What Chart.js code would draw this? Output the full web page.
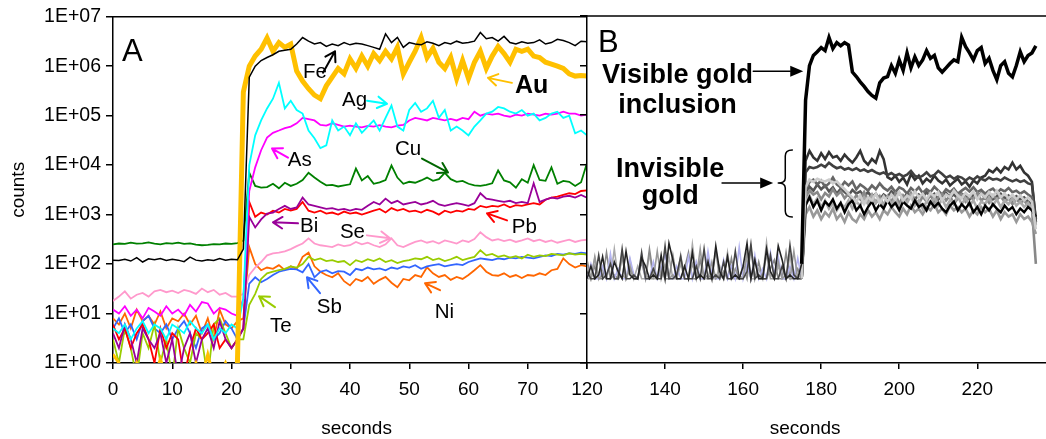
<!DOCTYPE html>
<html><head><meta charset="utf-8">
<script src="https://cdn.jsdelivr.net/npm/chart.js@4.4.0/dist/chart.umd.min.js"></script>
<style>
html,body{margin:0;padding:0;background:#fff;}
#wrap{position:relative;width:1046px;height:439px;overflow:hidden;background:#fff;}
#cA{position:absolute;left:0;top:0;}
#cB{position:absolute;left:560px;top:0;}
</style></head><body>
<div id="wrap"><canvas id="cA" width="600" height="439"></canvas><canvas id="cB" width="486" height="439"></canvas></div>
<script>
// ---------------- DATA ----------------
const secondsA = [0,1,2,3,4,5,6,7,8,9,10,11,12,13,14,15,16,17,18,19,20,21,22,23,24,25,26,27,28,29,30,31,32,33,34,35,36,37,38,39,40,41,42,43,44,45,46,47,48,49,50,51,52,53,54,55,56,57,58,59,60,61,62,63,64,65,66,67,68,69,70,71,72,73,74,75,76,77,78,79,80];
const secondsB = [120,121,122,123,124,125,126,127,128,129,130,131,132,133,134,135,136,137,138,139,140,141,142,143,144,145,146,147,148,149,150,151,152,153,154,155,156,157,158,159,160,161,162,163,164,165,166,167,168,169,170,171,172,173,174,175,176,177,178,179,180,181,182,183,184,185,186,187,188,189,190,191,192,193,194,195,196,197,198,199,200,201,202,203,204,205,206,207,208,209,210,211,212,213,214,215,216,217,218,219,220,221,222,223,224,225,226,227,228,229,230,231,232,233,234,235];

const xTicksA = [0,10,20,30,40,50,60,70,80];
const xTickLabelsA = ['0','10','20','30','40','50','60','70',''];
const xTicksB = [120,140,160,180,200,220];
const xTickLabelsB = ['120','140','160','180','200','220'];
const yTicks = [1,10,100,1000,10000,100000,1000000,10000000];
const yTickLabels = ['1E+00','1E+01','1E+02','1E+03','1E+04','1E+05','1E+06','1E+07'];

const fe = [120,118,125,115,135,110,128,122,130,118, 125,120,112,138,120,115,122,118,130,120, 125,122,200,6e5,1.0e6,1.3e6,1.5e6,1.7e6,2.0e6,2.1e6,
 2.2e6,2.8e6,3.8e6,3.2e6,2.8e6,3.0e6,2.5e6,2.8e6,2.6e6,3.0e6, 2.7e6,2.9e6,2.8e6,2.6e6,2.4e6,2.2e6,4.5e6,3.0e6,3.8e6,2.4e6,
 3.0e6,2.8e6,2.7e6,3.1e6,2.9e6,2.6e6,3.0e6,2.8e6,3.2e6,2.9e6, 3.0e6,3.2e6,4.8e6,3.6e6,3.8e6,3.2e6,4.0e6,3.0e6,2.8e6,3.1e6,
 2.9e6,3.0e6,3.4e6,2.8e6,3.0e6,3.5e6,3.3e6,3.0e6,2.6e6,3.2e6, 3.1e6];
const au = [1.5,1,0.5,0.5,1,0.5,0.5,0.5,1.2,0.5, 0.5,0.5,0.5,0.5,1,0.5,1.5,0.5,0.5,1, 0.5,1,3e5,1.0e6,1.6e6,2.2e6,3.7e6,2.0e6,3.0e6,2.4e6,
 2.8e6,8e5,5e5,3.5e5,2.6e5,2.2e5,4e5,6e5,9e5,7e5, 1.4e6,9e5,1.6e6,1.0e6,1.8e6,1.3e6,2.0e6,1.4e6,2.4e6,7e5,
 1.2e6,2.0e6,3.8e6,1.5e6,2.3e6,1.2e6,9e5,1.5e6,5.6e5,1.3e6, 5.6e5,1.2e6,2.0e6,9e5,1.6e6,2.5e6,1.8e6,1.2e6,2.2e6,2.0e6,
 2.2e6,1.6e6,1.5e6,1.2e6,1.1e6,1.0e6,9e5,7e5,6.3e5,6.5e5, 6.3e5];
const ag = [5,4,6,3,5,7,4,6,5,3, 6,5,4,7,5,4,6,3,5,4, 6,5,20,1e4,4e4,8e4,1.4e5,2.2e5,4.6e5,1.4e5,
 2e5,1.3e5,1.1e5,5e4,3.5e4,2.2e4,2.5e4,8e4,5e4,6e4, 4e4,7e4,4.5e4,6e4,8e4,5e4,9e4,1.6e5,6e4,5e4,
 1.3e5,1.8e5,1.2e5,1.4e5,2e5,9e4,1.3e5,5e4,6e4,5e4, 4e4,6e4,8e4,1.1e5,1.2e5,1.5e5,1.4e5,1.2e5,1.1e5,1.3e5,
 1.0e5,1.1e5,8e4,9e4,1.1e5,1.2e5,9e4,1.0e5,4.4e4,5e4, 4e4];
const as = [12,10,14,9,12,8,13,11,9,14, 10,12,9,15,11,17,16,10,13,12, 10,9,20,3e3,9e3,2e4,3.6e4,4.5e4,5e4,5.6e4,
 6e4,7e4,9e4,8.5e4,8e4,6.5e4,6.3e4,7e4,6.5e4,6e4, 6.3e4,6e4,5.8e4,6.2e4,6e4,6.4e4,6e4,5.8e4,6.3e4,6.5e4,
 8e4,9e4,8.5e4,8e4,9e4,8.5e4,8e4,8.6e4,8e4,9e4, 8.5e4,1.2e5,1.0e5,1.1e5,1.05e5,1.1e5,1.0e5,9.5e4,1.05e5,1.0e5,
 1.1e5,1.05e5,1.0e5,1.1e5,1.05e5,1.1e5,1.2e5,1.1e5,1.1e5,1.0e5, 1.05e5];
const cu = [250,260,255,270,258,262,275,260,250,265, 258,270,255,262,248,240,245,252,250,260, 255,265,300,7e3,3.8e3,3.5e3,3.6e3,4.2e3,3.4e3,4.4e3,
 3.8e3,4.2e3,5e3,7e3,5.6e3,4.6e3,3.9e3,4e3,3.7e3,3.9e3, 4.1e3,8.5e3,4.9e3,6e3,4.2e3,4.5e3,5e3,9.8e3,5.6e3,4.2e3,
 4.6e3,4.4e3,4.9e3,5.6e3,4.8e3,5.2e3,7e3,5.2e3,4.6e3,4.8e3, 4.2e3,3.9e3,3.8e3,4e3,4.3e3,7.8e3,4.9e3,4.5e3,3.5e3,5.2e3,
 4.4e3,1e4,5e3,4.8e3,9e3,4.2e3,4.8e3,4.6e3,3.8e3,4.5e3, 1.1e4];
const bi = [4,2,6,3,1,5,3,2,4,1, 3,0.5,2,4,1,3,5,2,7,3, 2,3,5,900,550,800,1.05e3,1.1e3,1.3e3,1.5e3,
 1.3e3,1.4e3,2.2e3,1.6e3,1.5e3,1.4e3,1.3e3,1.35e3,1.25e3,1.3e3, 1.2e3,1.3e3,1.25e3,1.5e3,1.8e3,1.6e3,2.1e3,1.7e3,1.9e3,1.6e3,
 1.7e3,1.8e3,1.6e3,1.7e3,1.9e3,1.6e3,1.5e3,1.6e3,1.7e3,1.6e3, 1.5e3,1.7e3,2.7e3,2.1e3,2.0e3,1.9e3,1.8e3,1.9e3,1.7e3,1.8e3,
 1.7e3,4.3e3,1.8e3,2.0e3,2.2e3,2.1e3,2.3e3,2.4e3,2.2e3,2.5e3, 2.2e3];
const pb = [6,3,5,2,4,6,3,1,5,2, 4,3,0.5,2,5,3,4,6,2,3, 2,3,5,1.8e3,900,1.1e3,1.0e3,1.2e3,1.1e3,1.3e3,
 1.2e3,1.3e3,1.8e3,1.2e3,1.1e3,1.2e3,1.05e3,1.1e3,1.0e3,1.15e3, 1.05e3,1.1e3,1.0e3,1.1e3,1.2e3,1.3e3,1.1e3,1.35e3,1.2e3,1.3e3,
 1.15e3,1.2e3,1.1e3,1.25e3,1.15e3,1.0e3,1.2e3,1.1e3,1.2e3,1.15e3, 1.3e3,1.25e3,1.5e3,1.4e3,1.5e3,1.45e3,1.6e3,1.4e3,1.55e3,1.5e3,
 1.6e3,1.7e3,1.6e3,2.0e3,2.2e3,2.3e3,2.5e3,2.7e3,2.6e3,3.0e3, 3.1e3];
const se = [18,22,28,20,24,26,22,28,30,27, 29,26,30,28,25,32,27,30,24,26, 22,22,25,60,85,110,150,165,170,180,
 200,230,260,330,260,240,230,220,250,230, 240,280,250,270,240,220,250,330,240,220,
 250,280,300,270,290,260,300,280,260,300, 280,320,440,350,300,320,290,310,280,300,
 330,290,310,280,300,270,290,310,280,300, 310];
const te = [3,1,5,2,0.5,4,2,6,1,3, 0.5,5,2,1,4,3,0.5,6,8,4, 2,3,3,15,25,50,65,70,75,80,
 90,85,100,140,120,130,115,120,110,115, 95,120,110,125,115,130,110,120,105,115,
 120,130,125,140,120,130,115,125,140,120, 130,140,190,150,160,140,150,135,145,130,
 155,140,150,145,160,155,150,165,155,160, 155];
const sb = [5,8,4,6,3,7,9,5,4,6, 3,5,7,4,2,5,6,3,4,7, 5,3,5,40,54,43,50,60,70,75,
 80,78,68,100,54,70,75,65,72,70, 60,80,75,85,78,82,75,85,80,90,
 85,95,80,90,95,100,90,95,100,95, 110,120,130,125,120,130,125,135,130,140,
 135,130,140,150,145,160,155,165,160,170, 165];
const ni = [8,6,10,5,12,7,9,6,11,5, 8,7,10,6,9,4,8,3,12,6, 5,7,8,220,100,75,85,80,95,75,
 90,80,140,170,90,70,60,54,65,45, 37,50,45,55,40,48,55,42,34,50,
 47,60,55,86,65,55,60,48,55,50, 60,75,95,70,60,58,65,55,60,52,
 60,58,65,60,75,80,130,100,85,95, 90];

// Panel B (arrays aligned to the end of secondsB)
const visibleGoldB = [50,90,50,60,140,50,50,110, 70,50,180,60,50,50,130,90, 50,60,50,150,50,260,120,50, 50,90,50,170,50,60,50,110, 50,230,70,50,140,50,60,50, 90,260,50,120,50,50,200,70, 50,230,120,50,60,50,50,100,
 2e5,1e6,1.6e6,1.9e6,2.3e6,2.0e6,3.7e6,2.2e6,2.9e6,2.5e6, 2.9e6,2.6e6,7.4e5,6e5,4.7e5,3.8e5,3e5,2.5e5,2.2e5,4.5e5,
 5.6e5,6e5,1.0e6,7e5,1.3e6,8e5,1.8e6,9e5,1.5e6,1.0e6, 1.3e6,2.0e6,1.4e6,1.6e6,9e5,7.4e5,9e5,1.1e6,1.3e6,1.2e6,
 3.7e6,2.4e6,1.8e6,1.3e6,2.0e6,2.3e6,1.1e6,1.4e6,8e5,5.2e5, 1.0e6,1.2e6,7e5,5.9e5,1.0e6,1.9e6,1.2e6,1.6e6,1.8e6,2.5e6];
const invisibleB1 = [50,50,130,50,80,50,50,200, 50,60,50,120,50,90,50,50, 160,50,50,70,50,140,50,50, 100,50,50,250,60,50,50,130, 50,50,90,50,170,50,50,60, 50,140,50,50,80,50,270,60, 50,90,50,50,150,50,60,50,
 1.2e4,1.9e4,1.4e4,1.2e4,1.7e4,1.3e4,1.8e4,1.4e4,1.5e4,1.2e4, 1.6e4,1.3e4,1.1e4,1.4e4,1.9e4,1.2e4,1.0e4,1.3e4,1.1e4,1.9e4,
 1.3e4,5.6e3,5e3,6e3,4.5e3,5.5e3,4e3,6.5e3,5e3,6e3, 4.2e3,5.2e3,4.5e3,6e3,4.8e3,4.2e3,5e3,3.8e3,4.5e3,5.2e3,
 4.0e3,4.6e3,3.6e3,4.8e3,4.2e3,5.5e3,6e3,7.8e3,7e3,8.5e3, 7e3,9e3,8e3,1.1e4,8e3,9.5e3,7e3,6e3,4.5e3,700];
const invisibleB2 = [50,
 7e3,9e3,8.5e3,9e3,1.0e4,9e3,1.1e4,9.5e3,8.5e3,9e3, 8e3,8.5e3,7.8e3,8.5e3,7.5e3,8e3,7.2e3,7.8e3,7e3,6.5e3,
 7e3,6.2e3,6.8e3,6e3,6.5e3,5.8e3,6.3e3,7.5e3,6e3,5.5e3, 6e3,7e3,5.8e3,6.2e3,7.5e3,6.5e3,5.5e3,6e3,5.2e3,5.8e3,
 5.5e3,4.8e3,5.5e3,5e3,5.8e3,5.2e3,4.8e3,5.5e3,5e3,5.2e3, 4.8e3,5.5e3,5e3,4.6e3,5e3,4.5e3,4.8e3,4.2e3,4.0e3,800];
const invisibleB3 = [50,
 3e3,4.5e3,5e3,4e3,4.8e3,3.6e3,4.2e3,5.5e3,4e3,3.5e3, 4.5e3,3.8e3,4.6e3,3.2e3,4e3,3.5e3,3e3,3.8e3,3.2e3,4.2e3,
 3.4e3,3.0e3,3.6e3,2.8e3,3.5e3,3.2e3,2.6e3,3.4e3,2.9e3,3.5e3, 2.7e3,3.2e3,2.8e3,3.6e3,3.0e3,2.5e3,3.2e3,2.8e3,3.3e3,2.6e3,
 3.0e3,3.4e3,2.9e3,3.5e3,2.8e3,3.1e3,2.6e3,3.0e3,3.3e3,2.7e3, 3.2e3,2.9e3,3.4e3,2.8e3,3.0e3,2.6e3,2.9e3,2.5e3,2.2e3,600];
const invisibleB4 = [50,
 3.5e3,5e3,4.5e3,5.2e3,4.8e3,4.6e3,5e3,4.2e3,4.6e3,3.8e3, 3.2e3,2.6e3,2.2e3,1.8e3,2.4e3,1.6e3,2.2e3,1.9e3,2.6e3,1.7e3,
 2.3e3,1.8e3,2.5e3,2.0e3,2.8e3,1.9e3,2.4e3,2.1e3,2.9e3,2.2e3, 2.6e3,2.0e3,2.7e3,2.3e3,2.8e3,1.9e3,2.5e3,2.2e3,3.0e3,2.4e3,
 2.1e3,2.7e3,2.3e3,2.9e3,2.0e3,2.6e3,2.2e3,2.8e3,2.3e3,3.0e3, 2.2e3,2.6e3,2.1e3,2.5e3,2.0e3,2.4e3,1.9e3,2.2e3,1.8e3,500];
const invisibleB5 = [70,50,50,150,50,60,100,50, 50,200,50,50,60,50,170,50, 50,80,50,50,230,50,50,60, 140,50,50,50,90,50,200,50, 50,60,50,110,50,50,180,50, 50,70,250,50,60,50,50,150, 50,50,90,50,240,60,50,50,
 1.5e3,2.2e3,1.4e3,1.9e3,1.2e3,1.8e3,1.5e3,2.0e3,1.3e3,1.7e3, 1.1e3,1.6e3,1.9e3,1.2e3,1.5e3,1.0e3,1.4e3,1.8e3,1.2e3,1.6e3,
 1.3e3,1.9e3,1.4e3,1.7e3,1.2e3,1.8e3,1.5e3,1.3e3,1.9e3,1.4e3, 1.6e3,1.2e3,1.8e3,1.4e3,1.7e3,1.3e3,1.1e3,1.5e3,1.8e3,1.2e3,
 1.6e3,1.3e3,1.7e3,1.1e3,1.4e3,1.0e3,1.5e3,1.2e3,1.6e3,1.3e3, 1.1e3,1.5e3,1.2e3,1.4e3,1.0e3,1.3e3,1.1e3,1.4e3,1.2e3,900];
const invisibleB6 = [120,50,90,50,50,170,50,60, 50,140,50,80,50,50,110,50, 200,60,50,90,50,50,150,50, 50,80,170,50,50,120,50,60, 50,190,50,70,50,130,50,50, 90,50,200,50,110,50,50,80, 120,50,50,170,50,50,80,50,
 2.2e3,3.0e3,2.5e3,2.8e3,2.0e3,2.7e3,2.3e3,3.2e3,2.4e3,2.9e3, 2.1e3,2.6e3,1.8e3,2.4e3,2.0e3,2.8e3,1.9e3,2.5e3,1.7e3,2.3e3,
 1.5e3,2.2e3,1.8e3,2.6e3,1.6e3,2.4e3,1.9e3,2.7e3,2.0e3,1.6e3, 2.3e3,1.8e3,2.5e3,1.7e3,2.2e3,2.6e3,1.9e3,2.4e3,1.6e3,2.1e3,
 2.5e3,1.8e3,2.3e3,2.0e3,2.7e3,1.9e3,2.2e3,1.7e3,2.4e3,2.0e3, 2.3e3,1.8e3,2.1e3,1.6e3,2.0e3,1.7e3,1.9e3,1.5e3,1.3e3,100];
const invisibleB7 = [50,100,50,50,90,50,160,50, 80,50,50,130,60,50,150,50, 50,110,50,80,160,50,50,90, 50,50,140,50,110,50,50,180, 60,50,50,120,50,90,50,220, 50,100,50,150,50,80,50,170, 60,140,50,50,90,50,130,50,
 1.8e3,2.4e3,1.6e3,2.1e3,1.4e3,1.9e3,1.3e3,1.7e3,1.2e3,1.6e3, 1.4e3,1.9e3,1.3e3,1.8e3,1.5e3,2.2e3,1.6e3,2.4e3,1.7e3,2.0e3,
 1.5e3,2.3e3,1.6e3,2.1e3,1.4e3,2.0e3,1.7e3,2.4e3,1.5e3,1.9e3, 1.3e3,1.8e3,1.6e3,2.2e3,1.5e3,2.0e3,1.4e3,1.9e3,1.7e3,2.3e3,
 1.6e3,2.1e3,1.5e3,1.9e3,1.3e3,1.8e3,1.6e3,2.2e3,1.5e3,2.0e3, 1.4e3,1.9e3,1.6e3,2.1e3,1.5e3,1.8e3,1.4e3,1.7e3,1.3e3,600];
const invisibleB8 = [50,
 2.8e3,3.6e3,3.0e3,4.0e3,3.2e3,3.8e3,2.9e3,3.5e3,2.6e3,3.3e3, 2.8e3,2.4e3,3.1e3,2.6e3,2.9e3,2.3e3,2.8e3,2.2e3,2.6e3,2.0e3,
 2.5e3,2.2e3,2.9e3,2.4e3,2.7e3,2.1e3,2.6e3,2.3e3,2.0e3,2.5e3, 2.2e3,2.8e3,2.3e3,2.6e3,2.0e3,2.4e3,2.7e3,2.2e3,2.5e3,2.1e3,
 2.6e3,2.3e3,2.0e3,2.5e3,2.2e3,2.7e3,2.1e3,2.4e3,2.0e3,2.3e3, 2.6e3,2.1e3,2.4e3,1.9e3,2.3e3,2.0e3,2.2e3,1.8e3,1.6e3,700];
const invisibleB9 = [90,50,140,50,60,50,110,50, 50,160,50,90,50,50,130,60, 50,50,180,50,100,50,60,50, 150,50,50,100,50,200,50,50, 110,50,60,50,150,50,80,50, 50,180,50,120,50,50,160,50, 50,110,50,60,50,180,50,50,
 1.0e3,1.4e3,900,1.2e3,800,1.1e3,900,1.3e3,800,1.0e3, 700,1.1e3,800,700,1.0e3,800,1.2e3,900,1.1e3,800,
 1.2e3,1.0e3,1.4e3,1.1e3,900,1.3e3,1.0e3,1.5e3,1.1e3,1.3e3, 1.0e3,1.4e3,1.2e3,1.6e3,1.1e3,1.3e3,1.0e3,1.5e3,1.2e3,1.4e3,
 1.1e3,1.3e3,900,1.2e3,1.0e3,1.4e3,1.1e3,1.3e3,900,1.2e3, 800,1.1e3,900,1.0e3,700,1.0e3,800,900,700,400];

// ---------------- RENDER ----------------
const FONT = "'Liberation Sans', Arial, Helvetica, sans-serif";
Chart.defaults.font.family = FONT;
Chart.defaults.color = '#000';

function pts(times, vals) {
  const off = times.length - vals.length;
  return vals.map((v, i) => ({x: times[off + i], y: v}));
}
function ds(times, vals, color, width, bgStyle) {
  const d = {data: pts(times, vals), borderColor: color, borderWidth: width, pointRadius: 0, tension: 0, fill: false};
  if (bgStyle) {
    d.segment = {
      borderWidth: c => (c.p1.parsed.x <= bgStyle.until ? bgStyle.width : undefined),
      borderColor: c => (c.p1.parsed.x <= bgStyle.until ? bgStyle.color : undefined)
    };
  }
  return d;
}
function P(chart, sx, v) { return [chart.scales.x.getPixelForValue(sx), chart.scales.y.getPixelForValue(v)]; }

const annotPlugin = {
  id: 'annot',
  afterDraw(chart, args, opts) {
    const ctx = chart.ctx, ca = chart.chartArea;
    ctx.save();
    ctx.strokeStyle = '#000'; ctx.lineWidth = 1.5;
    ctx.beginPath(); ctx.moveTo(ca.left, ca.top); ctx.lineTo(ca.right, ca.top); ctx.stroke();
    (opts.arrows || []).forEach(a => {
      const [x1, y1] = P(chart, a.x1, a.y1), [x2, y2] = P(chart, a.x2, a.y2);
      const ang = Math.atan2(y2 - y1, x2 - x1);
      ctx.strokeStyle = a.color; ctx.fillStyle = a.color; ctx.lineWidth = a.width; ctx.lineCap = 'round'; ctx.lineJoin = 'round';
      if (a.filled) {
        const L = 13, W = 5.5;
        const bx = x2 - L * Math.cos(ang), by = y2 - L * Math.sin(ang);
        ctx.beginPath(); ctx.moveTo(x1, y1); ctx.lineTo(bx, by); ctx.stroke();
        ctx.beginPath(); ctx.moveTo(x2, y2);
        ctx.lineTo(bx + W * Math.sin(ang), by - W * Math.cos(ang));
        ctx.lineTo(bx - W * Math.sin(ang), by + W * Math.cos(ang));
        ctx.closePath(); ctx.fill();
      } else {
        const L = 11, A = 0.55;
        ctx.beginPath(); ctx.moveTo(x1, y1); ctx.lineTo(x2, y2);
        ctx.moveTo(x2 - L * Math.cos(ang - A), y2 - L * Math.sin(ang - A));
        ctx.lineTo(x2, y2);
        ctx.lineTo(x2 - L * Math.cos(ang + A), y2 - L * Math.sin(ang + A));
        ctx.stroke();
      }
    });
    if (opts.brace) {
      const b = opts.brace;
      const xT = chart.scales.x.getPixelForValue(b.xTip), xR = chart.scales.x.getPixelForValue(b.xEnd);
      const xM = (xT + xR) / 2;
      const yT = chart.scales.y.getPixelForValue(b.top), yB = chart.scales.y.getPixelForValue(b.bottom), yM = chart.scales.y.getPixelForValue(b.mid);
      ctx.strokeStyle = '#000'; ctx.lineWidth = 1.5;
      ctx.beginPath();
      ctx.moveTo(xR, yT); ctx.quadraticCurveTo(xM, yT, xM, yT + 6);
      ctx.lineTo(xM, yM - 5); ctx.quadraticCurveTo(xM, yM, xT, yM);
      ctx.quadraticCurveTo(xM, yM, xM, yM + 5);
      ctx.lineTo(xM, yB - 6); ctx.quadraticCurveTo(xM, yB, xR, yB);
      ctx.stroke();
    }
    ctx.fillStyle = '#000'; ctx.textBaseline = 'alphabetic';
    (opts.texts || []).forEach(t => {
      const [x, y] = P(chart, t.x, t.y);
      ctx.font = (t.bold ? 'bold ' : '') + t.size + 'px ' + FONT;
      ctx.textAlign = t.align || 'left';
      ctx.fillText(t.text, x, y);
    });
    if (opts.xTitle) {
      ctx.font = '19px ' + FONT; ctx.textAlign = 'center';
      ctx.fillText(opts.xTitle.text, chart.scales.x.getPixelForValue(opts.xTitle.x), ca.bottom + 71);
    }
    ctx.restore();
  }
};

function xScale(min, max, ticks, labels) {
  return {
    type: 'linear', min: min, max: max, position: 'bottom',
    border: {display: true, color: '#000', width: 1.5},
    grid: {display: true, drawOnChartArea: false, drawTicks: true, tickLength: 6, color: '#000', lineWidth: 1.5},
    ticks: {autoSkip: false, maxRotation: 0, padding: 9, color: '#000', font: {size: 19},
      callback: (v, i) => labels[i]},
    afterBuildTicks: s => { s.ticks = ticks.map(v => ({value: v})); },
    afterFit: s => { s.height = 76; }
  };
}
function yScale(width, showLabels) {
  return {
    type: 'logarithmic', min: 1, max: 1e7, position: 'left',
    border: {display: true, color: '#000', width: 1.5},
    grid: {display: true, drawOnChartArea: false, drawTicks: true, tickLength: 7, color: '#000', lineWidth: 1.5},
    ticks: {display: showLabels, padding: 5, color: '#000', font: {size: 19.5}, callback: (v, i) => yTickLabels[i]},
    afterBuildTicks: s => { s.ticks = yTicks.map(v => ({value: v})); },
    afterFit: s => { s.width = width; },
    title: {display: showLabels, text: 'counts', color: '#000', font: {size: 19}, padding: {top: 7, bottom: 0}}
  };
}

const baseOpts = {responsive: false, animation: false, devicePixelRatio: 1, events: [], parsing: false, normalized: true};

new Chart(document.getElementById('cA'), {
  type: 'line',
  data: {datasets: [
    ds(secondsA, fe, '#000000', 1.5),
    ds(secondsA, au, '#FFC000', 5, {until: 21, width: 3, color: '#FFC000'}),
    ds(secondsA, ag, '#00FFFF', 1.8),
    ds(secondsA, as, '#FF00FF', 1.8),
    ds(secondsA, cu, '#008000', 1.8),
    ds(secondsA, bi, '#990099', 1.8),
    ds(secondsA, pb, '#FF0000', 1.8),
    ds(secondsA, se, '#FF99CC', 1.8),
    ds(secondsA, te, '#99CC00', 1.8),
    ds(secondsA, sb, '#3366FF', 1.8),
    ds(secondsA, ni, '#FF6600', 1.8)
  ]},
  options: Object.assign({}, baseOpts, {
    layout: {padding: {left: 0, right: 13, top: 16, bottom: 0}},
    scales: {x: xScale(0, 80, xTicksA, xTickLabelsA), y: yScale(113, true)},
    plugins: {legend: {display: false}, tooltip: {enabled: false},
      annot: {
        xTitle: {text: 'seconds', x: 41.1},
        texts: [
          {text: 'A', x: 1.52, y: 1.3e6, size: 31},
          {text: 'Fe', x: 32.07, y: 5.8e5, size: 20.5},
          {text: 'Ag', x: 38.65, y: 1.6e5, size: 20.5},
          {text: 'As', x: 29.5, y: 9.8e3, size: 20.5},
          {text: 'Cu', x: 47.6, y: 1.6e4, size: 20.5},
          {text: 'Au', x: 67.85, y: 2.9e5, size: 25, bold: true},
          {text: 'Bi', x: 31.56, y: 437, size: 20.5},
          {text: 'Se', x: 38.3, y: 331, size: 20.5},
          {text: 'Pb', x: 67.3, y: 417, size: 20.5},
          {text: 'Te', x: 26.5, y: 4.2, size: 20.5},
          {text: 'Sb', x: 34.4, y: 10.2, size: 20.5},
          {text: 'Ni', x: 54.3, y: 8.1, size: 20.5}
        ],
        arrows: [
          {x1: 35.44, y1: 7.4e5, x2: 37.47, y2: 2.0e6, color: '#000000', width: 2},
          {x1: 42.87, y1: 2.0e5, x2: 46.24, y2: 1.74e5, color: '#00FFFF', width: 2},
          {x1: 29.54, y1: 1.42e4, x2: 26.84, y2: 2.16e4, color: '#FF00FF', width: 2},
          {x1: 52.15, y1: 1.36e4, x2: 56.54, y2: 7.1e3, color: '#006600', width: 2},
          {x1: 67.34, y1: 4.6e5, x2: 63.29, y2: 5.8e5, color: '#FFC000', width: 2},
          {x1: 31.22, y1: 665, x2: 27.0, y2: 697, color: '#990099', width: 2},
          {x1: 42.87, y1: 380, x2: 46.75, y2: 331, color: '#FF99CC', width: 2},
          {x1: 66.5, y1: 764, x2: 63.12, y2: 1057, color: '#FF0000', width: 2},
          {x1: 27.34, y1: 13.5, x2: 24.64, y2: 22.4, color: '#99CC00', width: 2},
          {x1: 34.94, y1: 25.8, x2: 32.74, y2: 54, color: '#3366FF', width: 2},
          {x1: 55.19, y1: 29.6, x2: 52.66, y2: 41, color: '#FF6600', width: 2}
        ]
      }}
  }),
  plugins: [annotPlugin]
});

const bgB = (color) => ({until: 175, width: 1.6, color: color});
new Chart(document.getElementById('cB'), {
  type: 'line',
  data: {datasets: [
    ds(secondsB, visibleGoldB, '#000000', 3.5, bgB('#222222')),
    ds(secondsB, invisibleB4, '#cccccc', 2.6, bgB('#cccccc')),
    ds(secondsB, invisibleB5, '#000000', 2.4, bgB('#444444')),
    ds(secondsB, invisibleB9, '#999999', 2.6, bgB('#999999')),
    ds(secondsB, invisibleB7, '#aaaaaa', 2.6, bgB('#b4b4f0')),
    ds(secondsB, invisibleB6, '#888888', 2.6, bgB('#888888')),
    ds(secondsB, invisibleB3, '#666666', 2.6, bgB('#666666')),
    ds(secondsB, invisibleB8, '#555555', 2.6, bgB('#555555')),
    ds(secondsB, invisibleB2, '#404040', 2.6, bgB('#404040')),
    ds(secondsB, invisibleB1, '#333333', 2.6, bgB('#aaaaaa'))
  ]},
  options: Object.assign({}, baseOpts, {
    layout: {padding: {left: 0, right: 0, top: 16, bottom: 0}},
    scales: {x: xScale(120, 237.6, xTicksB, xTickLabelsB), y: yScale(27, false)},
    plugins: {legend: {display: false}, tooltip: {enabled: false},
      annot: {
        xTitle: {text: 'seconds', x: 175.9},
        texts: [
          {text: 'B', x: 122.8, y: 1.86e6, size: 31},
          {text: 'Visible gold', x: 143.2, y: 4.4e5, size: 27, bold: true, align: 'center'},
          {text: 'inclusion', x: 143.2, y: 1.1e5, size: 27, bold: true, align: 'center'},
          {text: 'Invisible', x: 141.3, y: 5.6e3, size: 27, bold: true, align: 'center'},
          {text: 'gold', x: 141.3, y: 1.6e3, size: 27, bold: true, align: 'center'}
        ],
        arrows: [
          {x1: 162.6, y1: 7.7e5, x2: 175.4, y2: 7.7e5, color: '#000000', width: 1.5, filled: true},
          {x1: 154.6, y1: 4.26e3, x2: 167.7, y2: 4.26e3, color: '#000000', width: 1.5, filled: true}
        ],
        brace: {xTip: 169.0, xEnd: 172.6, top: 1.97e4, bottom: 880, mid: 4.26e3}
      }}
  }),
  plugins: [annotPlugin]
});
</script></body></html>
